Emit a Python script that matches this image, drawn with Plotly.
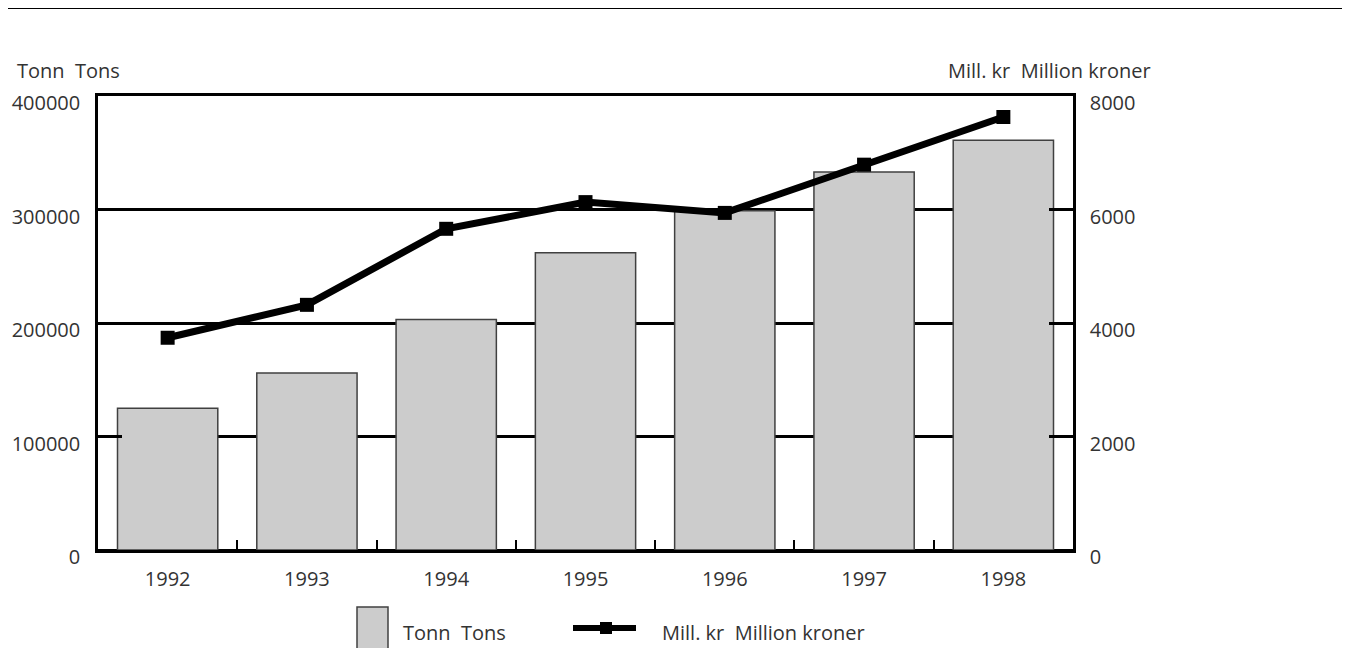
import plotly.graph_objects as go

years = ["1992", "1993", "1994", "1995", "1996", "1997", "1998"]
tons = [125000, 156000, 203000, 262000, 299000, 333000, 361000]
mill_kr = [3740, 4320, 5660, 6130, 5940, 6790, 7630]

left_ticks = [0, 100000, 200000, 300000, 400000]
right_ticks = [0, 2000, 4000, 6000, 8000]

FONT = "Open Sans"
TXT = "#333333"
FS = 20

# plot area in page pixels: x 98..1073, y 96..550
def xp(X):
    return (X - 98) / 975.0

def yp(Y):
    return (550 - Y) / 454.0

fig = go.Figure()
fig.add_trace(go.Bar(
    x=years, y=tons, name="Tonn  Tons",
    marker=dict(color="#cccccc", line=dict(color="#404040", width=1.5)),
    yaxis="y", showlegend=False,
))
fig.add_trace(go.Scatter(
    x=years, y=mill_kr, name="Mill. kr  Million kroner", yaxis="y2",
    mode="lines+markers",
    line=dict(color="black", width=7),
    marker=dict(symbol="square", size=14, color="black"),
    showlegend=False,
))

fig.update_layout(
    width=1342, height=640,
    margin=dict(l=90, r=277, t=88, b=98, autoexpand=False),
    plot_bgcolor="white", paper_bgcolor="white",
    font=dict(family=FONT, size=FS, color=TXT),
    bargap=0.28,
    xaxis=dict(
        type="category", showline=True, linecolor="black", linewidth=2.5, mirror=True,
        ticks="inside", ticklen=10, tickwidth=2, tickcolor="black", tickson="boundaries",
        showgrid=False, tickfont=dict(size=FS, color=TXT), ticklabelstandoff=9,
        automargin=False,
    ),
    yaxis=dict(
        range=[0, 400000], tickvals=left_ticks, ticktext=[str(v) for v in left_ticks],
        showline=True, linecolor="black", linewidth=2.5,
        ticks="inside", ticklen=24, tickwidth=3, tickcolor="black",
        showgrid=True, gridcolor="black", gridwidth=2.5,
        zeroline=True, zerolinecolor="black", zerolinewidth=3,
        ticklabelstandoff=11, ticklabelshift=7, tickfont=dict(size=FS, color=TXT),
        automargin=False,
    ),
    yaxis2=dict(
        range=[0, 8000], tickvals=right_ticks, ticktext=[str(v) for v in right_ticks],
        overlaying="y", side="right",
        showline=True, linecolor="black", linewidth=2.5,
        ticks="inside", ticklen=24, tickwidth=3, tickcolor="black",
        showgrid=False, zeroline=False,
        ticklabelstandoff=10, ticklabelshift=7, tickfont=dict(size=FS, color=TXT),
        automargin=False,
    ),
    shapes=[
        dict(type="line", xref="paper", yref="paper", x0=xp(5), x1=xp(1360), y0=yp(8), y1=yp(8),
             line=dict(color="black", width=2)),
        # legend symbols
        dict(type="rect", xref="paper", yref="paper", x0=xp(357), x1=xp(388), y0=yp(670), y1=yp(607),
             fillcolor="#cccccc", line=dict(color="#404040", width=1.5)),
        dict(type="line", xref="paper", yref="paper", x0=xp(573), x1=xp(636), y0=yp(628), y1=yp(628),
             line=dict(color="black", width=6)),
        dict(type="rect", xref="paper", yref="paper", x0=xp(600), x1=xp(612), y0=yp(634), y1=yp(622),
             fillcolor="black", line=dict(width=0)),
    ],
    annotations=[
        dict(text="Tonn  Tons", xref="paper", yref="paper", x=xp(15), y=yp(70),
             xanchor="left", yanchor="middle", showarrow=False, font=dict(size=FS, color=TXT)),
        dict(text="Mill. kr  Million kroner", xref="paper", yref="paper", x=xp(1153), y=yp(70),
             xanchor="right", yanchor="middle", showarrow=False, font=dict(size=FS, color=TXT)),
        dict(text="Tonn  Tons", xref="paper", yref="paper", x=xp(401), y=yp(632),
             xanchor="left", yanchor="middle", showarrow=False, font=dict(size=FS, color=TXT)),
        dict(text="Mill. kr  Million kroner", xref="paper", yref="paper", x=xp(660), y=yp(632),
             xanchor="left", yanchor="middle", showarrow=False, font=dict(size=FS, color=TXT)),
    ],
)

fig.write_html("out.html")
